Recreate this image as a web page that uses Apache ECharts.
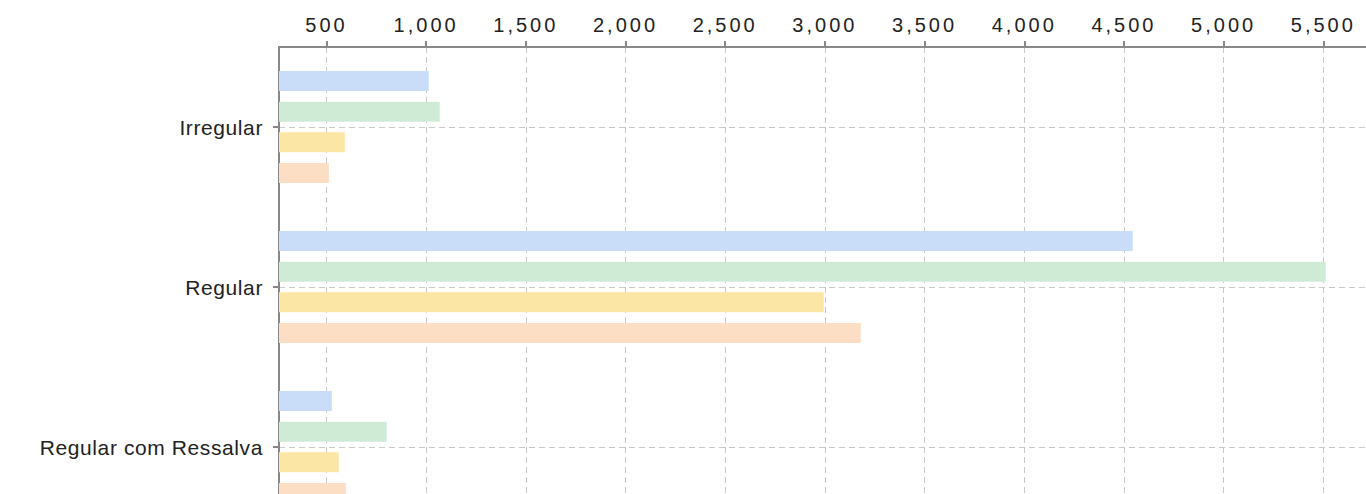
<!DOCTYPE html>
<html>
<head>
<meta charset="utf-8">
<script src="https://cdn.jsdelivr.net/npm/echarts@6/dist/echarts.min.js"></script>
<style>
  html, body { margin: 0; padding: 0; background: #fff; }
  #chart { width: 1366px; height: 494px; }
  /* os rótulos do eixo de valores são espaçados no original */
  #chart svg text[text-anchor="middle"] { letter-spacing: 3px; }
  #chart svg text[text-anchor="end"] { letter-spacing: 0.6px; }
</style>
</head>
<body>
<div id="chart"></div>
<script>
const categories = ['Irregular', 'Regular', 'Regular com Ressalva'];
const serieA = [1013, 4544, 527];
const serieB = [1068, 5512, 802];
const serieC = [592, 2994, 562];
const serieD = [512, 3180, 597];
const seriesNames = ['A', 'B', 'C', 'D'];
const colors = ['#c9ddf9', '#cfebd6', '#fce6a5', '#fcdec4'];
const axisMin = 262;
const axisMax = 5714;

let chart = echarts.init(document.getElementById('chart'), null, { renderer: 'svg' });

const fontFamily = 'Liberation Sans, Arial, sans-serif';

let option = {
  animation: false,
  grid: {
    left: 279,
    right: 0,
    top: 47,
    height: 480,
    outerBoundsMode: 'none'
  },
  xAxis: {
    type: 'value',
    position: 'top',
    min: axisMin,
    max: axisMax,
    splitNumber: 10,
    minInterval: 500,
    maxInterval: 500,
    axisLine: { show: true, lineStyle: { color: '#888', width: 2 } },
    axisTick: { show: true, length: 6, lineStyle: { color: '#888', width: 2 } },
    axisLabel: {
      margin: 12,
      showMinLabel: false,
      showMaxLabel: false,
      color: '#222',
      fontSize: 20,
      fontFamily: fontFamily
    },
    splitLine: { show: true, lineStyle: { color: '#c8c8c8', type: [6, 4] } }
  },
  yAxis: {
    type: 'category',
    inverse: true,
    data: categories,
    axisLine: { show: true, lineStyle: { color: '#888', width: 2 } },
    axisTick: { show: true, alignWithLabel: true, length: 6, lineStyle: { color: '#888', width: 2 } },
    axisLabel: {
      margin: 16,
      color: '#222',
      fontSize: 21,
      fontFamily: fontFamily
    },
    splitLine: { show: true, alignWithLabel: true, lineStyle: { color: '#c8c8c8', type: [6, 4] } }
  },
  series: [serieA, serieB, serieC, serieD].map(function (data, i) {
    return {
      name: seriesNames[i],
      type: 'bar',
      data: data,
      barWidth: 20,
      barGap: '53.3%',
      itemStyle: { color: colors[i] }
    };
  })
};

chart.setOption(option);
</script>
</body>
</html>
